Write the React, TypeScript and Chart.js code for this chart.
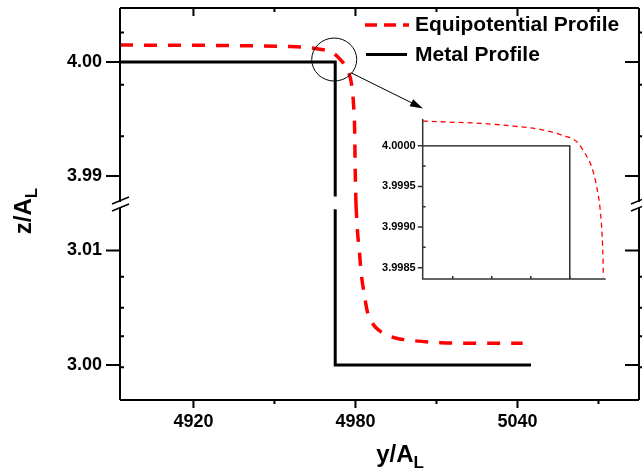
import React, { useEffect, useRef } from 'react';
import { Chart, registerables } from 'chart.js';
Chart.register(...registerables);

const FONT = "'Liberation Sans', Arial, Helvetica, sans-serif";

// ---- main chart data ----
const metalTopX = [4893, 4972.5, 4972.5];
const metalTopY = [4.0, 4.0, 3.9882];
const metalBotX = [4972.5, 4972.5, 5045];
const metalBotY = [3.0136, 3.0, 3.0];

const equiTopX = [4892.8, 4955.9, 4966.3, 4971.5, 4974.5, 4977.1, 4978.6, 4979.3, 4979.7, 4979.9, 4980.2];
const equiTopY = [4.00149, 4.00136, 4.00114, 4.00083, 4.00018, 3.9993, 3.99798, 3.99623, 3.99404, 3.99053, 3.98746];
const equiBotX = [4980.2, 4980.7, 4981.4, 4982.2, 4983.3, 4984.4, 4986.2, 4988.5, 4991.8, 4994.8, 5001.5, 5011.5, 5020.1, 5041.9];
const equiBotY = [3.01397, 3.01179, 3.01004, 3.00786, 3.00611, 3.00466, 3.00367, 3.00306, 3.00262, 3.00236, 3.00212, 3.00195, 3.0019, 3.0019];

const xTicks = [4920, 4980, 5040];
const xMinorTicks = [4950, 5010, 5070];
const yTopTicks = [3.99, 4.0];
const yBotTicks = [3.0, 3.01];
const yTopMinor = [4.0026, 3.998, 3.9935];
const yBotMinor = [3.0077, 3.005, 3.0025, 2.9998];

// ---- inset data ----
const insetMetalX = [-0.77, 3, 3];
const insetMetalY = [4.0, 4.0, 3.99836];
const insetEquiX = [-0.77, -0.15, 0.7, 1.55, 2.24, 2.79, 3.18, 3.39, 3.56, 3.69, 3.78, 3.83, 3.85, 3.86];
const insetEquiY = [4.000305, 4.000293, 4.000277, 4.000243, 4.000202, 4.000132, 4.000049, 3.999906, 3.999741, 3.999494, 3.999206, 3.998877, 3.99863, 3.998383];
const insetYTicks = [3.9985, 3.999, 3.9995, 4.0];
const insetYMinor = [3.99875, 3.99925, 3.99975];
const insetXMinor = [0, 1, 2, 3];

const legendLabels = ['Equipotential Profile', 'Metal Profile'];

const pts = (xs: number[], ys: number[]) => xs.map((x, i) => ({ x, y: ys[i] }));

const RED = '#ff0000';

const noPad = (s: any) => { s.paddingTop = 0; s.paddingBottom = 0; s.paddingLeft = 0; s.paddingRight = 0; };

const mainPlugin = {
  id: 'mainDecor',
  afterDraw(chart: any) {
    const ctx = chart.ctx;
    const { left, right, top, bottom } = chart.chartArea;
    const sx = chart.scales.x;
    const yt = chart.scales.yTop;
    const yb = chart.scales.yBot;
    const brk = yt.bottom;
    ctx.save();
    ctx.strokeStyle = '#000';
    ctx.lineWidth = 2;
    ctx.setLineDash([]);
    // frame
    ctx.beginPath();
    ctx.moveTo(left, top); ctx.lineTo(right, top);
    ctx.moveTo(left, bottom); ctx.lineTo(right, bottom);
    ctx.moveTo(left, top); ctx.lineTo(left, brk - 3);
    ctx.moveTo(left, brk + 3); ctx.lineTo(left, bottom);
    ctx.moveTo(right, top); ctx.lineTo(right, brk - 3);
    ctx.moveTo(right, brk + 3); ctx.lineTo(right, bottom);
    ctx.stroke();
    // x ticks
    ctx.beginPath();
    xTicks.forEach(v => {
      const p = sx.getPixelForValue(v);
      ctx.moveTo(p, bottom); ctx.lineTo(p, bottom + 8);
      ctx.moveTo(p, top); ctx.lineTo(p, top + 8);
    });
    xMinorTicks.forEach(v => {
      const p = sx.getPixelForValue(v);
      ctx.moveTo(p, bottom); ctx.lineTo(p, bottom + 4);
      ctx.moveTo(p, top); ctx.lineTo(p, top + 4);
    });
    // y major ticks
    const yMaj = [...yTopTicks.map(v => yt.getPixelForValue(v)), ...yBotTicks.map(v => yb.getPixelForValue(v))];
    yMaj.forEach(p => {
      ctx.moveTo(left - 14, p); ctx.lineTo(left, p);
      ctx.moveTo(right - 14, p); ctx.lineTo(right, p);
    });
    const yMin = [...yTopMinor.map(v => yt.getPixelForValue(v)), ...yBotMinor.map(v => yb.getPixelForValue(v))];
    yMin.forEach(p => {
      ctx.moveTo(left, p); ctx.lineTo(left + 4, p);
      ctx.moveTo(right, p); ctx.lineTo(right + 4, p);
    });
    ctx.stroke();
    // break marks
    ctx.lineWidth = 1.5;
    ctx.beginPath();
    [left, right].forEach(x0 => {
      ctx.moveTo(x0 - 8, brk - 1); ctx.lineTo(x0 + 9, brk - 8);
      ctx.moveTo(x0 - 8, brk + 6); ctx.lineTo(x0 + 9, brk - 1);
    });
    ctx.stroke();

    // annotation circle and arrow
    const cx = sx.getPixelForValue(4972.5) - 1;
    const cy = yt.getPixelForValue(4.0) - 2.5;
    ctx.lineWidth = 1;
    ctx.beginPath();
    ctx.ellipse(cx, cy, 22.5, 21.5, 0, 0, Math.PI * 2);
    ctx.stroke();
    const ax0 = 351.5, ay0 = 73, ax1 = 423, ay1 = 108.5;
    ctx.beginPath();
    ctx.moveTo(ax0, ay0); ctx.lineTo(ax1 - 8, ay1 - 4);
    ctx.stroke();
    const ang = Math.atan2(ay1 - ay0, ax1 - ax0);
    ctx.beginPath();
    ctx.moveTo(ax1, ay1);
    ctx.lineTo(ax1 - 13 * Math.cos(ang) + 4 * Math.sin(ang), ay1 - 13 * Math.sin(ang) - 4 * Math.cos(ang));
    ctx.lineTo(ax1 - 13 * Math.cos(ang) - 4 * Math.sin(ang), ay1 - 13 * Math.sin(ang) + 4 * Math.cos(ang));
    ctx.closePath();
    ctx.fillStyle = '#000';
    ctx.fill();

    // legend
    ctx.lineWidth = 3.5;
    ctx.strokeStyle = RED;
    ctx.setLineDash([12, 7]);
    ctx.beginPath();
    ctx.moveTo(365, 25); ctx.lineTo(409, 25);
    ctx.stroke();
    ctx.setLineDash([]);
    ctx.strokeStyle = '#000';
    ctx.lineWidth = 3;
    ctx.beginPath();
    ctx.moveTo(366, 54.5); ctx.lineTo(407, 54.5);
    ctx.stroke();
    ctx.fillStyle = '#000';
    ctx.font = `bold 21px ${FONT}`;
    ctx.textAlign = 'left';
    ctx.textBaseline = 'alphabetic';
    ctx.fillText(legendLabels[0], 415, 31);
    ctx.fillText(legendLabels[1], 415, 60.5);

    // axis titles
    ctx.font = `bold 24px ${FONT}`;
    ctx.textAlign = 'left';
    const main = 'y/A';
    const w = ctx.measureText(main).width;
    ctx.font = `bold 17px ${FONT}`;
    const ws = ctx.measureText('L').width;
    const startX = 400 - (w + ws) / 2;
    ctx.font = `bold 24px ${FONT}`;
    ctx.fillText(main, startX, 462);
    ctx.font = `bold 17px ${FONT}`;
    ctx.fillText('L', startX + w, 468);

    ctx.save();
    ctx.translate(31, 211);
    ctx.rotate(-Math.PI / 2);
    ctx.font = `bold 24px ${FONT}`;
    const m2 = 'z/A';
    const w2 = ctx.measureText(m2).width;
    const s2 = -(w2 + ws) / 2;
    ctx.fillText(m2, s2, 0);
    ctx.font = `bold 17px ${FONT}`;
    ctx.fillText('L', s2 + w2, 6);
    ctx.restore();

    ctx.restore();
  },
};

const insetPlugin = {
  id: 'insetDecor',
  afterDraw(chart: any) {
    const ctx = chart.ctx;
    const { left, right, top, bottom } = chart.chartArea;
    const sx = chart.scales.x;
    const sy = chart.scales.y;
    ctx.save();
    ctx.strokeStyle = '#333';
    ctx.lineWidth = 1.5;
    ctx.beginPath();
    ctx.moveTo(left, top); ctx.lineTo(left, bottom); ctx.lineTo(right, bottom);
    insetYTicks.forEach(v => {
      const p = sy.getPixelForValue(v);
      ctx.moveTo(left - 5, p); ctx.lineTo(left, p);
    });
    insetYMinor.forEach(v => {
      const p = sy.getPixelForValue(v);
      ctx.moveTo(left, p); ctx.lineTo(left + 3, p);
    });
    insetXMinor.forEach(v => {
      const p = sx.getPixelForValue(v);
      ctx.moveTo(p, bottom); ctx.lineTo(p, bottom - 3);
    });
    ctx.stroke();
    ctx.restore();
  },
};

export default function App() {
  const mainRef = useRef<HTMLCanvasElement | null>(null);
  const insetRef = useRef<HTMLCanvasElement | null>(null);

  useEffect(() => {
    document.body.style.margin = '0';
    const tickFont = { family: FONT, size: 18, weight: 'bold' as const };
    const noGrid = { display: false, drawTicks: false };
    const main = new Chart(mainRef.current as HTMLCanvasElement, {
      type: 'scatter',
      data: {
        datasets: [
          { label: 'eqTop', data: pts(equiTopX, equiTopY), yAxisID: 'yTop', showLine: true, borderColor: RED, borderWidth: 3.5, borderDash: [13, 11], pointRadius: 0, cubicInterpolationMode: 'monotone', fill: false },
          { label: 'eqBot', data: pts(equiBotX, equiBotY), yAxisID: 'yBot', showLine: true, borderColor: RED, borderWidth: 3.5, borderDash: [13, 11], pointRadius: 0, cubicInterpolationMode: 'monotone', fill: false },
          { label: 'mTop', data: pts(metalTopX, metalTopY), yAxisID: 'yTop', showLine: true, borderColor: '#000', borderWidth: 3, pointRadius: 0, fill: false },
          { label: 'mBot', data: pts(metalBotX, metalBotY), yAxisID: 'yBot', showLine: true, borderColor: '#000', borderWidth: 3, pointRadius: 0, fill: false },
        ],
      },
      options: {
        responsive: false,
        animation: false,
        devicePixelRatio: 1,
        layout: { padding: { top: 8, right: 3, left: 0, bottom: 0 } },
        plugins: { legend: { display: false }, tooltip: { enabled: false } },
        scales: {
          x: {
            type: 'linear', position: 'bottom', min: 4892.8, max: 5085,
            grid: noGrid, border: { display: false },
            afterBuildTicks: (s: any) => { s.ticks = xTicks.map(v => ({ value: v })); },
            afterFit: (s: any) => { s.height = 70; noPad(s); },
            ticks: { font: tickFont, color: '#000', padding: 11, maxRotation: 0, callback: (v: any) => String(v) },
          },
          yBot: {
            type: 'linear', position: 'left', stack: 'y', stackWeight: 195, min: 2.99694, max: 3.01397,
            grid: noGrid, border: { display: false },
            afterBuildTicks: (s: any) => { s.ticks = yBotTicks.map(v => ({ value: v })); },
            afterFit: (s: any) => { s.width = 120; noPad(s); },
            ticks: { font: tickFont, color: '#000', padding: 18, callback: (v: any) => Number(v).toFixed(2) },
          },
          yTop: {
            type: 'linear', position: 'left', stack: 'y', stackWeight: 197, min: 3.98746, max: 4.00474,
            grid: noGrid, border: { display: false },
            afterBuildTicks: (s: any) => { s.ticks = yTopTicks.map(v => ({ value: v })); },
            afterFit: (s: any) => { s.width = 120; noPad(s); },
            ticks: { font: tickFont, color: '#000', padding: 18, callback: (v: any) => Number(v).toFixed(2) },
          },
        },
      } as any,
      plugins: [mainPlugin],
    });

    const inset = new Chart(insetRef.current as HTMLCanvasElement, {
      type: 'scatter',
      data: {
        datasets: [
          { label: 'eq', data: pts(insetEquiX, insetEquiY), showLine: true, borderColor: RED, borderWidth: 1.3, borderDash: [5, 4], pointRadius: 0, cubicInterpolationMode: 'monotone', fill: false },
          { label: 'm', data: pts(insetMetalX, insetMetalY), showLine: true, borderColor: '#111', borderWidth: 1.3, pointRadius: 0, fill: false },
        ],
      },
      options: {
        responsive: false,
        animation: false,
        devicePixelRatio: 1,
        layout: { padding: { top: 9, right: 14.3, left: 0, bottom: 11 } },
        plugins: { legend: { display: false }, tooltip: { enabled: false } },
        scales: {
          x: { type: 'linear', min: -0.77, max: 3.92, display: false },
          y: {
            type: 'linear', position: 'left', min: 3.99836, max: 4.00033,
            grid: noGrid, border: { display: false },
            afterBuildTicks: (s: any) => { s.ticks = insetYTicks.map(v => ({ value: v })); },
            afterFit: (s: any) => { s.width = 62.7; noPad(s); },
            ticks: { font: { family: FONT, size: 11, weight: 'bold' }, color: '#000', padding: 7, callback: (v: any) => Number(v).toFixed(4) },
          },
        },
      } as any,
      plugins: [insetPlugin],
    });

    return () => { main.destroy(); inset.destroy(); };
  }, []);

  return (
    <div style={{ position: 'relative', width: 642, height: 470, background: '#fff' }}>
      <canvas ref={mainRef} width={642} height={470} style={{ position: 'absolute', left: 0, top: 0 }} />
      <canvas ref={insetRef} width={260} height={180} style={{ position: 'absolute', left: 360, top: 110 }} />
    </div>
  );
}
